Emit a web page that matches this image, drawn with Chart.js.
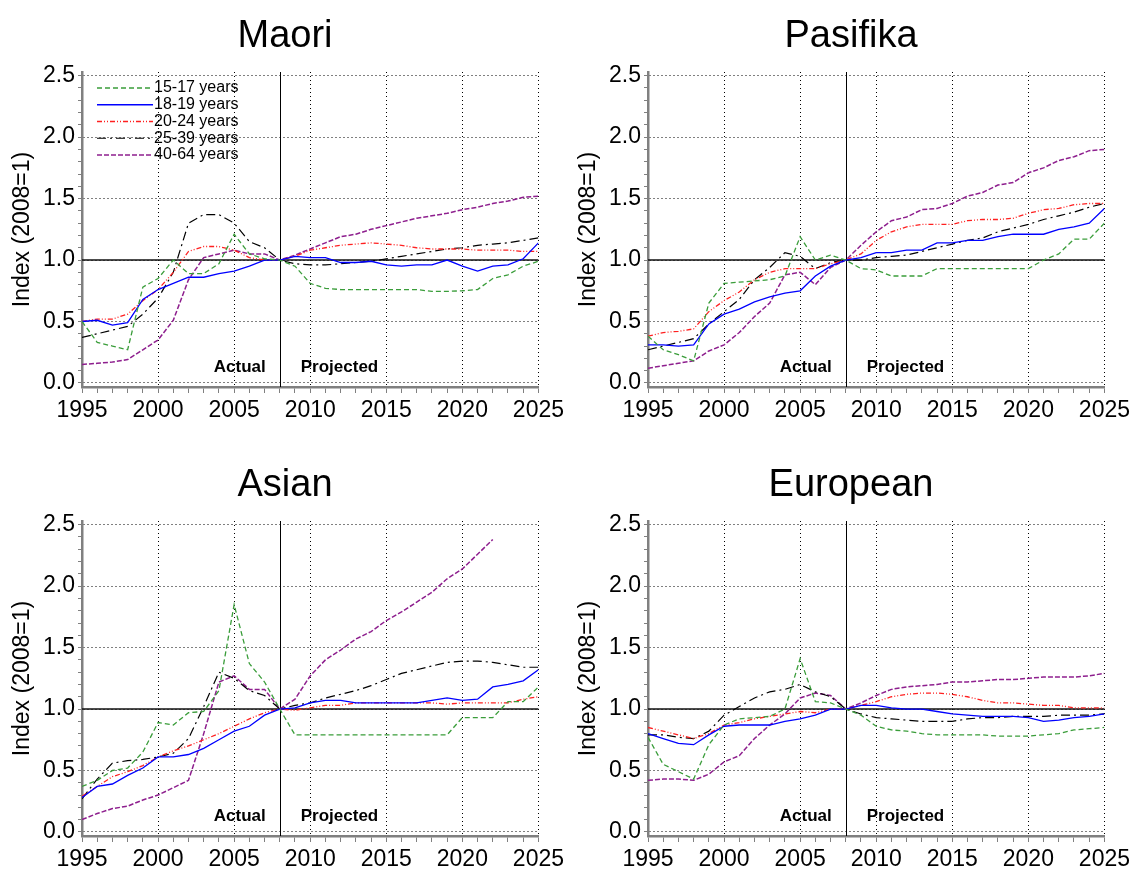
<!DOCTYPE html>
<html>
<head>
<meta charset="utf-8">
<title>Index (2008=1) by ethnic group</title>
<script src="https://cdn.jsdelivr.net/npm/chart.js@4.4.1/dist/chart.umd.min.js"></script>
<style>
  html, body { margin: 0; padding: 0; background: #fff; width: 1131px; height: 870px; overflow: hidden; }
  canvas { position: absolute; }
</style>
</head>
<body>
<canvas id="maori" style="left:0px;top:0px" width="568" height="450"></canvas>
<canvas id="pasifika" style="left:566px;top:0px" width="568" height="450"></canvas>
<canvas id="asian" style="left:0px;top:449px" width="568" height="450"></canvas>
<canvas id="european" style="left:566px;top:449px" width="568" height="450"></canvas>
<script>
// x categories and tick labels
const years = [1995, 1996, 1997, 1998, 1999, 2000, 2001, 2002, 2003, 2004, 2005, 2006, 2007, 2008,
  2009, 2010, 2011, 2012, 2013, 2014, 2015, 2016, 2017, 2018, 2019, 2020, 2021, 2022, 2023, 2024, 2025];
const xTickLabels = ['1995', '2000', '2005', '2010', '2015', '2020', '2025'];
const yTickLabels = ['0.0', '0.5', '1.0', '1.5', '2.0', '2.5'];
const ageGroups = ['15-17 years', '18-19 years', '20-24 years', '25-39 years', '40-64 years'];

// Maori
const maori1517 = [0.50, 0.33, 0.30, 0.27, 0.78, 0.85, 1.00, 0.89, 0.89, 0.97, 1.21, 1.05, 1.01, 1.00,
  0.95, 0.81, 0.77, 0.76, 0.76, 0.76, 0.76, 0.76, 0.76, 0.745, 0.745, 0.75, 0.76, 0.85, 0.88, 0.95, 0.99];
const maori1819 = [0.50, 0.51, 0.47, 0.49, 0.68, 0.76, 0.81, 0.86, 0.86, 0.89, 0.91, 0.95, 1.00, 1.00,
  1.03, 1.02, 1.02, 0.98, 0.98, 0.99, 0.96, 0.95, 0.96, 0.96, 1.00, 0.95, 0.91, 0.95, 0.96, 1.01, 1.14];
const maori2024 = [0.50, 0.52, 0.52, 0.56, 0.67, 0.76, 0.90, 1.07, 1.11, 1.11, 1.08, 1.02, 1.00, 1.00,
  1.03, 1.08, 1.10, 1.12, 1.13, 1.14, 1.13, 1.12, 1.10, 1.09, 1.09, 1.09, 1.08, 1.08, 1.08, 1.07, 1.07];
const maori2539 = [0.37, 0.40, 0.43, 0.46, 0.56, 0.69, 0.90, 1.30, 1.37, 1.37, 1.30, 1.15, 1.10, 1.00,
  0.97, 0.96, 0.96, 0.97, 0.98, 0.99, 1.01, 1.03, 1.05, 1.07, 1.09, 1.10, 1.12, 1.13, 1.14, 1.16, 1.18];
const maori4064 = [0.15, 0.16, 0.17, 0.19, 0.27, 0.35, 0.51, 0.84, 1.02, 1.05, 1.08, 1.05, 1.05, 1.00,
  1.04, 1.09, 1.14, 1.19, 1.21, 1.25, 1.28, 1.31, 1.34, 1.36, 1.38, 1.41, 1.43, 1.46, 1.48, 1.51, 1.52];

// Pasifika
const pasifika1517 = [0.38, 0.27, 0.23, 0.18, 0.65, 0.81, 0.82, 0.83, 0.84, 0.87, 1.19, 1.00, 1.04, 1.00,
  0.93, 0.92, 0.87, 0.87, 0.87, 0.93, 0.93, 0.93, 0.93, 0.93, 0.93, 0.93, 1.00, 1.05, 1.17, 1.17, 1.30];
const pasifika1819 = [0.31, 0.31, 0.30, 0.31, 0.48, 0.56, 0.60, 0.66, 0.70, 0.73, 0.75, 0.87, 0.95, 1.00,
  1.02, 1.06, 1.06, 1.08, 1.08, 1.14, 1.14, 1.16, 1.16, 1.19, 1.21, 1.21, 1.21, 1.25, 1.27, 1.30, 1.42];
const pasifika2024 = [0.38, 0.41, 0.42, 0.44, 0.58, 0.67, 0.74, 0.84, 0.90, 0.93, 0.93, 0.93, 0.97, 1.00,
  1.05, 1.16, 1.23, 1.27, 1.29, 1.29, 1.29, 1.32, 1.33, 1.33, 1.34, 1.38, 1.41, 1.42, 1.45, 1.46, 1.46];
const pasifika2539 = [0.27, 0.30, 0.33, 0.36, 0.48, 0.58, 0.68, 0.84, 0.94, 1.06, 1.03, 0.93, 0.98, 1.00,
  1.00, 1.02, 1.03, 1.04, 1.07, 1.10, 1.13, 1.16, 1.18, 1.23, 1.26, 1.29, 1.33, 1.36, 1.39, 1.43, 1.46];
const pasifika4064 = [0.12, 0.14, 0.16, 0.18, 0.26, 0.31, 0.41, 0.54, 0.65, 0.88, 0.90, 0.80, 0.94, 1.00,
  1.12, 1.23, 1.32, 1.35, 1.41, 1.42, 1.46, 1.52, 1.55, 1.61, 1.63, 1.71, 1.75, 1.81, 1.84, 1.89, 1.90];

// Asian (40-64 series ends at 2022)
const asian1517 = [0.37, 0.42, 0.50, 0.52, 0.65, 0.89, 0.87, 0.97, 0.98, 1.15, 1.85, 1.37, 1.22, 1.00,
  0.79, 0.79, 0.79, 0.79, 0.79, 0.79, 0.79, 0.79, 0.79, 0.79, 0.79, 0.93, 0.93, 0.93, 1.06, 1.06, 1.18];
const asian1819 = [0.28, 0.37, 0.39, 0.46, 0.52, 0.61, 0.61, 0.63, 0.68, 0.75, 0.82, 0.86, 0.95, 1.00,
  1.01, 1.05, 1.07, 1.07, 1.05, 1.05, 1.05, 1.05, 1.05, 1.07, 1.09, 1.07, 1.08, 1.18, 1.20, 1.23, 1.32];
const asian2024 = [0.29, 0.37, 0.45, 0.49, 0.54, 0.61, 0.66, 0.70, 0.75, 0.80, 0.86, 0.92, 0.97, 1.00,
  0.99, 1.01, 1.03, 1.03, 1.05, 1.05, 1.05, 1.05, 1.05, 1.05, 1.04, 1.05, 1.05, 1.05, 1.05, 1.08, 1.10];
const asian2539 = [0.27, 0.43, 0.56, 0.58, 0.59, 0.61, 0.64, 0.76, 1.02, 1.30, 1.25, 1.15, 1.11, 1.00,
  1.03, 1.05, 1.09, 1.12, 1.15, 1.19, 1.24, 1.29, 1.32, 1.35, 1.38, 1.39, 1.39, 1.38, 1.36, 1.34, 1.34];
const asian4064 = [0.10, 0.15, 0.19, 0.21, 0.26, 0.30, 0.36, 0.42, 0.80, 1.22, 1.27, 1.16, 1.16, 1.00,
  1.08, 1.27, 1.40, 1.48, 1.57, 1.63, 1.72, 1.79, 1.87, 1.95, 2.06, 2.14, 2.26, 2.38, null, null, null];

// European
const european1517 = [0.77, 0.55, 0.49, 0.43, 0.71, 0.87, 0.92, 0.93, 0.94, 1.00, 1.41, 1.06, 1.05, 1.00,
  0.95, 0.86, 0.83, 0.82, 0.80, 0.79, 0.79, 0.79, 0.79, 0.78, 0.78, 0.78, 0.79, 0.80, 0.83, 0.84, 0.85];
const european1819 = [0.80, 0.76, 0.72, 0.71, 0.79, 0.86, 0.87, 0.87, 0.87, 0.90, 0.92, 0.95, 1.00, 1.00,
  1.03, 1.03, 1.01, 1.00, 1.00, 0.98, 0.96, 0.95, 0.94, 0.94, 0.94, 0.93, 0.90, 0.91, 0.93, 0.94, 0.96];
const european2024 = [0.85, 0.82, 0.79, 0.76, 0.80, 0.87, 0.89, 0.92, 0.94, 0.96, 0.98, 0.97, 1.00, 1.00,
  1.03, 1.06, 1.10, 1.12, 1.13, 1.13, 1.12, 1.10, 1.07, 1.05, 1.05, 1.04, 1.03, 1.03, 1.01, 1.01, 1.01];
const european2539 = [0.79, 0.79, 0.77, 0.76, 0.82, 0.95, 1.02, 1.09, 1.14, 1.16, 1.20, 1.14, 1.10, 1.00,
  0.96, 0.93, 0.92, 0.91, 0.90, 0.90, 0.90, 0.92, 0.93, 0.93, 0.94, 0.94, 0.94, 0.95, 0.95, 0.95, 0.96];
const european4064 = [0.42, 0.43, 0.43, 0.42, 0.47, 0.57, 0.62, 0.76, 0.87, 0.96, 1.09, 1.13, 1.11, 1.00,
  1.05, 1.11, 1.16, 1.18, 1.19, 1.20, 1.22, 1.22, 1.23, 1.24, 1.24, 1.25, 1.26, 1.26, 1.26, 1.27, 1.29];

const FONT = "'Liberation Sans', Arial, sans-serif";
const BASE_YEAR = 2008;

// one style per age group: colour, dash, width
const lineStyles = [
  { color: '#3a9d3a', dash: [5, 3], width: 1.3 },
  { color: '#0000ff', dash: [], width: 1.3 },
  { color: '#ff2020', dash: [5, 2, 1, 2, 1, 2], width: 1.3 },
  { color: '#000000', dash: [9, 4, 2, 4], width: 1.2 },
  { color: '#8e1f8e', dash: [5, 2], width: 1.5 }
];

// reference lines (1.0 and base year) plus Actual / Projected text
const markerPlugin = {
  id: 'markers',
  beforeDatasetsDraw(chart) {
    const { ctx, chartArea, scales } = chart;
    const y1 = scales.y.getPixelForValue(1);
    const xb = scales.x.getPixelForValue(BASE_YEAR);
    ctx.save();
    ctx.strokeStyle = '#111';
    ctx.lineWidth = 1.4;
    ctx.beginPath();
    ctx.moveTo(chartArea.left, y1);
    ctx.lineTo(chartArea.right, y1);
    ctx.stroke();
    ctx.lineWidth = 1;
    ctx.strokeStyle = '#000';
    ctx.beginPath();
    ctx.moveTo(Math.round(xb) + 0.5, chartArea.top);
    ctx.lineTo(Math.round(xb) + 0.5, chartArea.bottom);
    ctx.stroke();
    ctx.restore();
  },
  afterDatasetsDraw(chart) {
    const { ctx, scales } = chart;
    const xb = scales.x.getPixelForValue(BASE_YEAR);
    const y0 = scales.y.getPixelForValue(0);
    ctx.save();
    ctx.fillStyle = '#000';
    ctx.font = 'bold 17px ' + FONT;
    ctx.textBaseline = 'alphabetic';
    ctx.textAlign = 'right';
    ctx.fillText('Actual', xb - 14, y0 - 11);
    ctx.textAlign = 'left';
    ctx.fillText('Projected', xb + 21, y0 - 11);
    ctx.restore();
  }
};

// legend drawn inside the plot, top left (Maori panel only)
const insideLegend = {
  id: 'insideLegend',
  afterDatasetsDraw(chart) {
    const { ctx, chartArea } = chart;
    ctx.save();
    ctx.font = '16px ' + FONT;
    ctx.textBaseline = 'middle';
    ctx.textAlign = 'left';
    chart.data.datasets.forEach((ds, i) => {
      const y = 88 + i * 16.75;
      const x0 = chartArea.left + 15;
      const x1 = chartArea.left + 71;
      ctx.strokeStyle = ds.borderColor;
      ctx.lineWidth = ds.borderWidth;
      ctx.setLineDash(ds.borderDash);
      ctx.beginPath();
      ctx.moveTo(x0, y);
      ctx.lineTo(x1, y);
      ctx.stroke();
      ctx.setLineDash([]);
      ctx.fillStyle = '#000';
      ctx.fillText(ds.label, x1 + 1, y);
    });
    ctx.restore();
  }
};

function isMajorY(v) {
  return Math.abs(v * 2 - Math.round(v * 2)) < 1e-6;
}

function makePanel(elementId, title, series, showLegend) {
  const canvas = document.getElementById(elementId);
  if (!canvas) {
    console.warn('canvas not found: ' + elementId);
    return null;
  }
  const datasets = series.map((values, i) => ({
    label: ageGroups[i],
    data: years.map((yr, j) => ({ x: yr, y: values[j] })),
    borderColor: lineStyles[i].color,
    borderDash: lineStyles[i].dash,
    borderWidth: lineStyles[i].width,
    borderCapStyle: 'butt',
    pointRadius: 0,
    tension: 0,
    fill: false,
    spanGaps: false
  }));

  const plugins = [markerPlugin];
  if (showLegend) plugins.push(insideLegend);

  // left padding 31 keeps the title centred where the original has it;
  // the y scale box is then fixed to 51px so the axis sits at x=82
  return new Chart(canvas.getContext('2d'), {
    type: 'line',
    data: { datasets },
    plugins,
    options: {
      responsive: false,
      animation: false,
      devicePixelRatio: 1,
      layout: { padding: { left: 31, right: 29, top: 0, bottom: 0 } },
      plugins: {
        legend: { display: false },
        tooltip: { enabled: false },
        title: {
          display: true,
          text: title,
          color: '#000',
          font: { family: FONT, size: 38, weight: 'normal' },
          padding: { top: 14, bottom: 12.4 }
        }
      },
      scales: {
        x: {
          type: 'linear',
          min: 1995,
          max: 2025,
          afterBuildTicks: (scale) => { scale.ticks = years.map(v => ({ value: v })); },
          afterFit: (scale) => { scale.height = 63; },
          border: { display: true, color: '#808080', width: 2.5, dash: [1, 3] },
          grid: {
            color: (c) => (c.tick && c.tick.value % 5 === 0 ? '#000' : 'rgba(0,0,0,0)'),
            lineWidth: 1,
            tickColor: '#808080',
            tickLength: 6,
            tickWidth: 1,
            tickBorderDash: []
          },
          ticks: {
            autoSkip: false,
            maxRotation: 0,
            padding: 4,
            color: '#000',
            font: { family: FONT, size: 23 },
            callback: (v) => (xTickLabels.includes(String(v)) ? String(v) : '')
          }
        },
        y: {
          min: -0.033,
          max: 2.53,
          afterBuildTicks: (scale) => {
            const t = [];
            for (let k = 0; k <= 25; k++) t.push({ value: k / 10 });
            scale.ticks = t;
          },
          afterFit: (scale) => { scale.width = 51; },
          border: { display: true, color: '#808080', width: 2.5, dash: [1, 3] },
          grid: {
            color: (c) => (c.tick && isMajorY(c.tick.value) ? '#000' : 'rgba(0,0,0,0)'),
            lineWidth: 1,
            tickColor: '#808080',
            tickLength: 4,
            tickWidth: 1,
            tickBorderDash: []
          },
          ticks: {
            autoSkip: false,
            padding: 3,
            color: '#000',
            font: { family: FONT, size: 23 },
            callback: (v) => {
              const lab = yTickLabels.find(s => Math.abs(parseFloat(s) - v) < 1e-6);
              return lab || '';
            }
          },
          title: {
            display: true,
            text: 'Index (2008=1)',
            color: '#000',
            font: { family: FONT, size: 23 },
            padding: { top: -22.3, bottom: 0 }
          }
        }
      }
    }
  });
}

makePanel('maori', 'Maori', [maori1517, maori1819, maori2024, maori2539, maori4064], true);
makePanel('pasifika', 'Pasifika', [pasifika1517, pasifika1819, pasifika2024, pasifika2539, pasifika4064], false);
makePanel('asian', 'Asian', [asian1517, asian1819, asian2024, asian2539, asian4064], false);
makePanel('european', 'European', [european1517, european1819, european2024, european2539, european4064], false);
</script>
</body>
</html>
